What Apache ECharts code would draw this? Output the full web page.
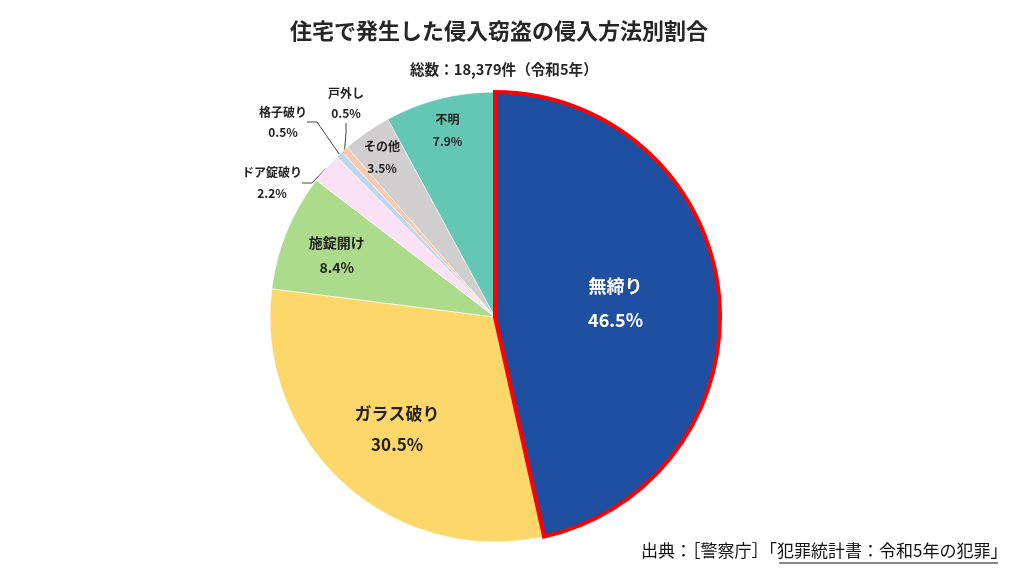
<!DOCTYPE html>
<html><head><meta charset="utf-8">
<script src="https://cdn.jsdelivr.net/npm/echarts@6/dist/echarts.min.js"></script>
<style>html,body{margin:0;padding:0;background:#fff}#c{width:1024px;height:576px}</style>
</head><body><div id="c"></div>
<script>
const categories = ['無締り','ガラス破り','施錠開け','ドア錠破り','格子破り','戸外し','その他','不明'];
const shares = [46.5, 30.5, 8.4, 2.2, 0.5, 0.5, 3.5, 7.9];
const colors = ['#1f4fa0','#fdd76a','#addb8c','#fce0f6','#bdd7ee','#f8cbad','#d0cece','#63c7b3'];
const titleText = '住宅で発生した侵入窃盗の侵入方法別割合';
const subText = '総数：18,379件（令和5年）';
const sourceText = '出典：［警察庁］「犯罪統計書：令和5年の犯罪」';

const FONT = '"Noto Sans CJK JP", "Noto Sans", sans-serif';
const CX = 495, CY = 317, R = 225;
// label styling per category (k: radial push for inside labels; t: label box centre for outside labels)
const labelStyle = {
  '無締り': {position:'inside', color:'#fff', fontSize:18, lineHeight:34, k:1.05, ox:0, oy:-1},
  'ガラス破り': {position:'inside', color:'#222', fontSize:17, lineHeight:31, k:1.35, ox:7, oy:-3},
  '施錠開け': {position:'inside', color:'#222', fontSize:14, lineHeight:25, k:1.64, ox:17, oy:10},
  'その他': {position:'inside', color:'#222', fontSize:12, lineHeight:22, k:1.70, ox:-1, oy:2},
  '不明': {position:'inside', color:'#222', fontSize:12, lineHeight:22, k:1.67, ox:0, oy:0},
  'ドア錠破り': {position:'outside', color:'#222', fontSize:12, lineHeight:21, t:[272,183]},
  '格子破り': {position:'outside', color:'#222', fontSize:12, lineHeight:20, t:[283,122]},
  '戸外し': {position:'outside', color:'#222', fontSize:12, lineHeight:20, t:[346,103]}
};

const data = categories.map((name, i) => {
  const ls = labelStyle[name];
  return {
    name, value: shares[i],
    itemStyle: {color: colors[i], borderColor: '#ffffff', borderWidth: 0.6},
    label: {position: ls.position, color: ls.color, fontSize: ls.fontSize, fontWeight: 'bold', lineHeight: ls.lineHeight, align:'center', verticalAlign:'middle'},
    labelLine: {show: ls.position === 'outside', length: 8, length2: 10, lineStyle:{color:'#444', width:1}}
  };
});
// overlay that outlines the highlighted slice in red
const outlineData = categories.map((name, i) => ({
  name, value: shares[i],
  itemStyle: i === 0 ? {color:'rgba(0,0,0,0)', borderColor:'#ff0000', borderWidth:4, borderJoin:'miter'}
                     : {color:'rgba(0,0,0,0)', borderWidth:0}
}));

const chart = echarts.init(document.getElementById('c'), null, {renderer:'canvas'});
chart.setOption({
  backgroundColor: '#ffffff',
  animation: false,
  title: [
    {text: titleText, left: 285, top: 15, textStyle: {fontFamily: FONT, fontSize: 22, fontWeight: 'bold', color: '#262626'}},
    {text: subText, left: 405, top: 57, textStyle: {fontFamily: FONT, fontSize: 14.6, fontWeight: 'bold', color: '#262626'}}
  ],
  graphic: [
    {type:'text', x: 641, y: 551, style:{text: sourceText, font: '17px ' + FONT, fill:'#111', align:'left', verticalAlign:'middle'}},
    {type:'line', shape:{x1: 779, y1: 563, x2: 998, y2: 563}, style:{stroke:'#111', lineWidth:1}}
  ],
  series: [{
    type: 'pie',
    center: [CX, CY],
    radius: [0, R],
    startAngle: 90,
    clockwise: true,
    avoidLabelOverlap: false,
    label: {show: true, fontFamily: FONT, formatter: p => p.name + '\n' + p.value.toFixed(1) + '%'},
    labelLayout: function (p) {
      const ls = labelStyle[categories[p.dataIndex]];
      const r = p.labelRect;
      const lx = r.x + r.width / 2, ly = r.y + r.height / 2;
      if (ls.position === 'inside') {
        return {dx: (lx - CX) * (ls.k - 1) + ls.ox, dy: (ly - CY) * (ls.k - 1) + ls.oy};
      }
      return {x: ls.t[0], y: ls.t[1], align: 'center', verticalAlign: 'middle'};
    },
    data: data
  }, {
    type: 'pie',
    center: [CX, CY],
    radius: [0, R],
    startAngle: 90,
    clockwise: true,
    silent: true,
    label: {show: false},
    labelLine: {show: false},
    data: outlineData
  }]
});
</script></body></html>
